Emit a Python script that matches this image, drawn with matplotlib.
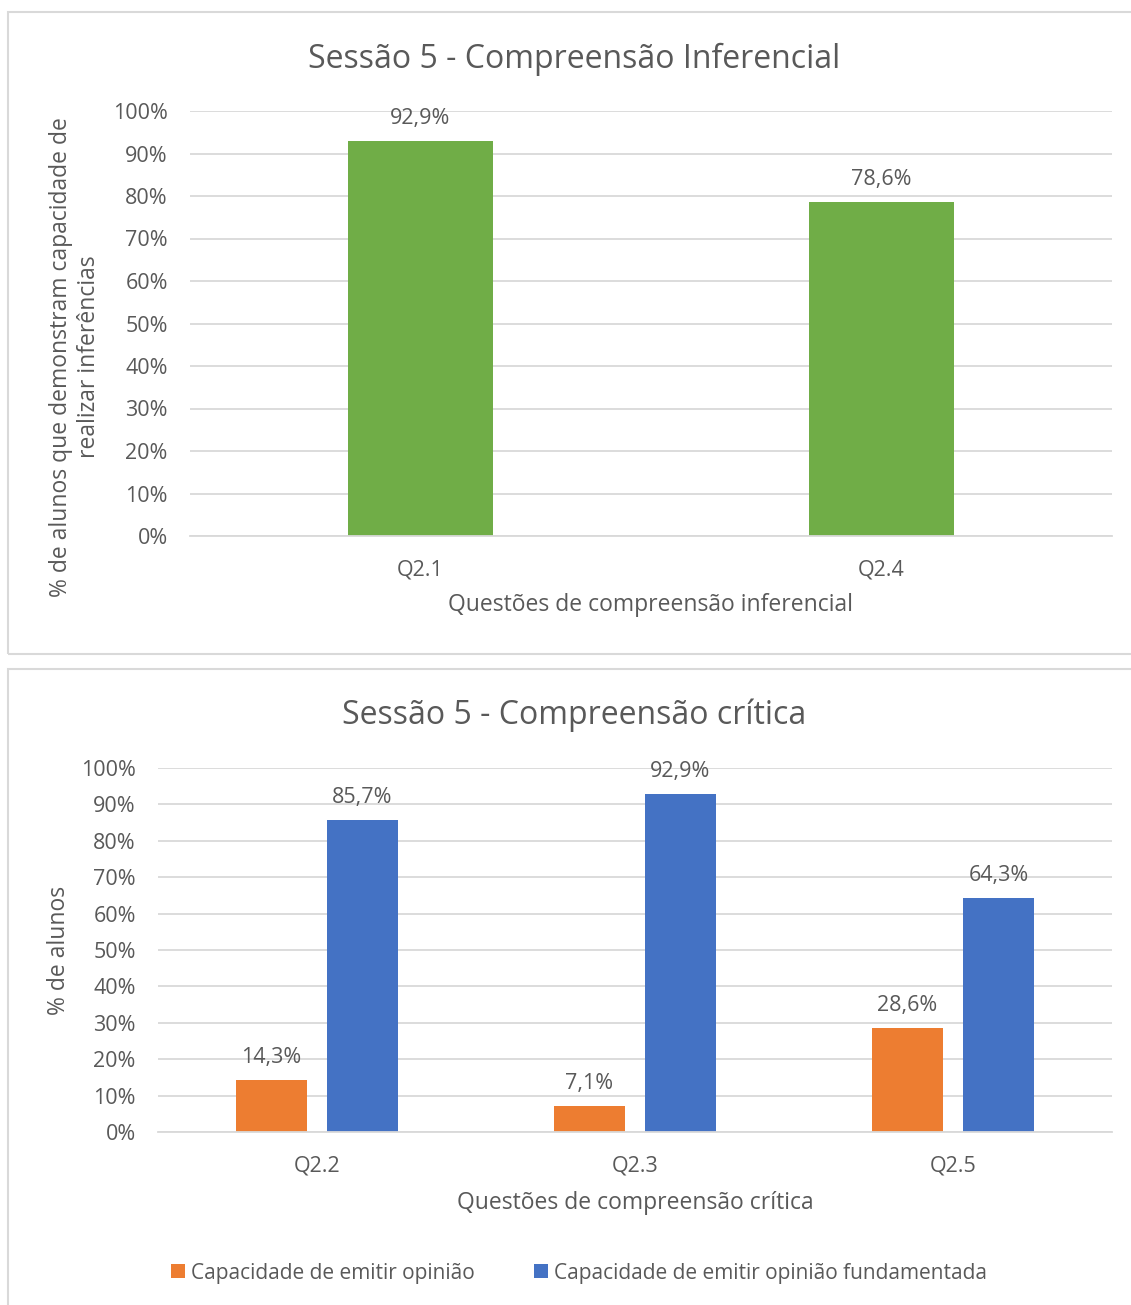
import matplotlib
matplotlib.use("Agg")
import matplotlib.pyplot as plt
from matplotlib.patches import Rectangle
from matplotlib.ticker import PercentFormatter
import numpy as np

plt.rcParams['font.family'] = ['Open Sans', 'DejaVu Sans']

# inferential comprehension
inf_questions = ["Q2.1", "Q2.4"]
inf_values = [92.9, 78.6]

# critical comprehension
crit_questions = ["Q2.2", "Q2.3", "Q2.5"]
opiniao = [14.3, 7.1, 28.6]
opiniao_fund = [85.7, 92.9, 64.3]
series_names = ["Capacidade de emitir opinião",
                "Capacidade de emitir opinião fundamentada"]

TXT = "#595959"
GRID = "#d9d9d9"
GREEN = "#70AD47"
ORANGE = "#ED7D31"
BLUE = "#4472C4"

W, H = 1131, 1305
fig = plt.figure(figsize=(W / 100, H / 100), dpi=100)


def box(x0, y0, x1, y1):
    # pixel box (top-left origin) -> figure fraction rect
    return [x0 / W, 1 - y1 / H, (x1 - x0) / W, (y1 - y0) / H]


def frame(x0, y0, x1, y1):
    r = box(x0, y0, x1, y1)
    fig.patches.append(Rectangle((r[0], r[1]), r[2], r[3], transform=fig.transFigure,
                                 fill=False, edgecolor=GRID, linewidth=1.5))


def ftext(x, y, s, **kw):
    kw.setdefault("ha", "center")
    kw.setdefault("va", "center")
    fig.text(x / W, 1 - y / H, s, color=TXT, **kw)


def pct(v):
    return f"{v:.1f}%".replace(".", ",")


def label_bars(ax, bars, vals):
    for b, v in zip(bars, vals):
        ax.annotate(pct(v), (b.get_x() + b.get_width() / 2, v), xytext=(0, 16),
                    textcoords="offset points", ha="center", va="center",
                    color=TXT, fontsize=15.5)


def style(ax):
    ax.set_ylim(0, 100)
    ax.set_yticks(np.arange(0, 101, 10))
    ax.yaxis.set_major_formatter(PercentFormatter(decimals=0))
    ax.grid(axis="y", color=GRID, linewidth=1.3)
    ax.set_axisbelow(True)
    for s in ["top", "right", "left"]:
        ax.spines[s].set_visible(False)
    ax.spines["bottom"].set_color(GRID)
    ax.spines["bottom"].set_linewidth(1.3)
    ax.tick_params(length=0, colors=TXT, labelsize=15.5)
    ax.tick_params(axis="y", pad=16)
    ax.tick_params(axis="x", pad=17)


frame(8, 12, 1140, 654)
frame(8, 669, 1140, 1320)

# top chart
ax1 = fig.add_axes(box(190, 111, 1112, 536))
x1 = np.arange(len(inf_questions))
bars = ax1.bar(x1, inf_values, width=0.315, color=GREEN)
label_bars(ax1, bars, inf_values)
ax1.set_xlim(-0.5, 1.5)
ax1.set_xticks(x1, inf_questions)
style(ax1)
ftext(574, 59, "Sessão 5 - Compreensão Inferencial", fontsize=23)
ftext(651, 605, "Questões de compreensão inferencial", fontsize=16.5)
ftext(75, 357, "% de alunos que demonstram capacidade de\nrealizar inferências",
      fontsize=16.5, rotation=90, multialignment="center")

# bottom chart
ax2 = fig.add_axes(box(158, 768, 1112, 1132))
x2 = np.arange(len(crit_questions))
w = 0.223
off = 0.143
b1 = ax2.bar(x2 - off, opiniao, width=w, color=ORANGE, label=series_names[0])
b2 = ax2.bar(x2 + off, opiniao_fund, width=w, color=BLUE, label=series_names[1])
label_bars(ax2, b1, opiniao)
label_bars(ax2, b2, opiniao_fund)
ax2.set_xlim(-0.5, 2.5)
ax2.set_xticks(x2, crit_questions)
style(ax2)
ftext(574, 715, "Sessão 5 - Compreensão crítica", fontsize=23)
ftext(635, 1203, "Questões de compreensão crítica", fontsize=16.5)
ftext(59, 950, "% de alunos", fontsize=16.5, rotation=90)
ax2.legend(loc="center", bbox_to_anchor=(579 / W, 1 - 1273 / H), bbox_transform=fig.transFigure,
           ncol=2, frameon=False, fontsize=15, labelcolor=TXT, handlelength=0.67,
           handleheight=0.67, handletextpad=0.3, columnspacing=2.8, borderpad=0)

fig.savefig("out.png", dpi=100, facecolor="white")
